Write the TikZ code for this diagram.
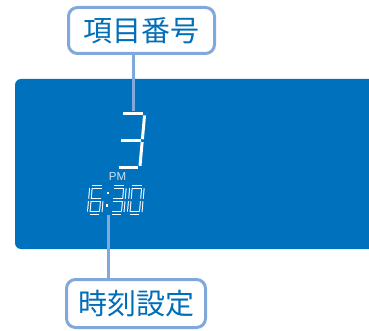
\documentclass[tikz,border=0pt]{standalone}
\usepackage{fontspec}
\setsansfont{Liberation Sans}
\newfontfamily\cjk{Noto Sans CJK JP}
\usetikzlibrary{positioning}
\definecolor{panel}{RGB}{0,113,188}
\definecolor{frame}{RGB}{128,168,218}
\definecolor{lettering}{RGB}{0,110,184}
\definecolor{pale}{RGB}{205,225,242}
\tikzset{
  callout/.style={draw=frame,fill=white,line width=3pt,rounded corners=9pt,
    inner sep=0pt,text=lettering,font=\cjk\fontsize{29}{29}\selectfont},
  lead/.style={draw=frame,line width=3pt},
  seg/.style={draw=white,line width=3pt,shorten <=1.4pt,shorten >=1.4pt},
  seg hollow/.style={draw=white,line width=1pt,double=panel,double distance=1.5pt,
    shorten <=1.2pt,shorten >=1.2pt},
  % seven segment digit, unit size, origin top left
  pics/digit/.style args={#1/#2}{code={
    \coordinate (a1) at (0,0);   \coordinate (a2) at (1,0);
    \coordinate (b1) at (1,0);   \coordinate (b2) at (1,0.5);
    \coordinate (c1) at (1,0.5); \coordinate (c2) at (1,1);
    \coordinate (d1) at (0,1);   \coordinate (d2) at (1,1);
    \coordinate (e1) at (0,0.5); \coordinate (e2) at (0,1);
    \coordinate (f1) at (0,0);   \coordinate (f2) at (0,0.5);
    \coordinate (g1) at (0,0.5); \coordinate (g2) at (1,0.5);
    \foreach \s in {#1} \draw[#2] (\s1) -- (\s2);
  }},
}
\begin{document}
\begin{tikzpicture}[x=1pt,y=-1pt]
  \useasboundingbox (0,0) rectangle (369,331);
  % display panel
  \fill[panel,rounded corners=6pt] (15,79) rectangle (385,249);
  \pic[xslant=0.09,xscale=23,yscale=54] at (122,114) {digit={a,b,g,c,d}/seg};
  \node[font=\sffamily\fontsize{11.5}{11.5}\selectfont,text=pale,inner sep=0pt] (pm) at (117.5,177) {PM};
  \pic[xslant=0.09,xscale=12,yscale=26] at (91,187) {digit={a,f,g,e,d,c}/seg hollow};
  \pic[xslant=0.09,xscale=12,yscale=26] at (113,187) {digit={a,b,g,c,d}/seg hollow};
  \pic[xslant=0.09,xscale=12,yscale=26] at (131,187) {digit={a,b,c,d,e,f}/seg hollow};
  \fill[white] (106.8,191.8) rectangle +(2.6,2.6);
  \fill[white] (105.6,204.2) rectangle +(2.6,2.6);
  \coordinate (digit top) at (133,111);
  \coordinate (time foot) at (108,215);
  % labels
  \node[callout,minimum width=146pt,minimum height=46pt] (item tag) at (141.5,30.5) {項目番号};
  \node[callout,minimum width=139pt,minimum height=48pt] (time tag) at (136,303.5) {時刻設定};
  \draw[lead] (item tag.south -| digit top) -- (digit top);
  \draw[lead] (time tag.north -| time foot) -- (time foot);
\end{tikzpicture}
\end{document}
